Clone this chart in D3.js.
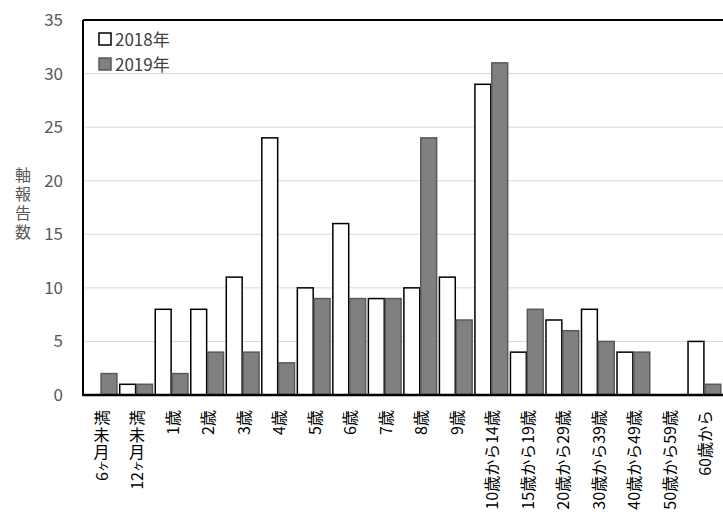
<!DOCTYPE html>
<html><head><meta charset="utf-8">
<script src="https://cdn.jsdelivr.net/npm/d3@7"></script>
<style>body{margin:0;background:#fff}svg{display:block}</style>
</head><body>
<script>
const categories = ["6ヶ月未満","12ヶ月未満","1歳","2歳","3歳","4歳","5歳","6歳","7歳","8歳","9歳","10歳から14歳","15歳から19歳","20歳から29歳","30歳から39歳","40歳から49歳","50歳から59歳","60歳から"];
const series2018 = [0,1,8,8,11,24,10,16,9,10,11,29,4,7,8,4,0,5];
const series2019 = [2,1,2,4,4,3,9,9,9,24,7,31,8,6,5,4,0,1];
const seriesNames = ["2018年","2019年"];
const yTicks = [0,5,10,15,20,25,30,35];
const yTitle = "軸報告数";

const W=723,H=522;
const m={left:83,right:1,top:20,bottom:127};
const svg=d3.select("body").append("svg").attr("width",W).attr("height",H);
const font="'Noto Sans CJK JP','Open Sans',sans-serif";

const x=d3.scaleBand().domain(categories).range([m.left,W-m.right]).paddingInner(0.05).paddingOuter(0.02);
const xs=d3.scaleBand().domain(seriesNames).range([0,x.bandwidth()]).padding(0);
const y=d3.scaleLinear().domain([0,35]).range([H-m.bottom,m.top]);

// gridlines
svg.append("g").selectAll("line").data(yTicks.filter(d=>d>0&&d<35)).join("line")
 .attr("x1",m.left).attr("x2",W).attr("y1",d=>y(d)).attr("y2",d=>y(d))
 .attr("stroke","#d9d9d9").attr("stroke-width",1);

const data=[series2018,series2019];
const styles=[{fill:"#ffffff",stroke:"#000000"},{fill:"#808080",stroke:"#595959"}];
seriesNames.forEach((s,si)=>{
  svg.append("g").selectAll("rect").data(categories).join("rect")
   .attr("x",c=>x(c)+xs(s)+0.5)
   .attr("width",xs.bandwidth()-1)
   .attr("y",(c,i)=>y(data[si][i]))
   .attr("height",(c,i)=>y(0)-y(data[si][i]))
   .attr("fill",styles[si].fill).attr("stroke",styles[si].stroke).attr("stroke-width",1.5)
   .attr("display",(c,i)=>data[si][i]===0?"none":null);
});

// frame
svg.append("line").attr("x1",m.left).attr("x2",W).attr("y1",m.top).attr("y2",m.top).attr("stroke","#000").attr("stroke-width",2);
svg.append("line").attr("x1",m.left).attr("x2",m.left).attr("y1",m.top).attr("y2",y(0)).attr("stroke","#000").attr("stroke-width",2);
svg.append("line").attr("x1",m.left-1).attr("x2",W).attr("y1",y(0)).attr("y2",y(0)).attr("stroke","#000").attr("stroke-width",2.5);

// y axis labels
const ya=svg.append("g").attr("transform",`translate(${m.left},0)`)
 .call(d3.axisLeft(y).tickValues(yTicks).tickSize(0).tickPadding(20));
ya.select(".domain").remove();
ya.selectAll("text").attr("font-family",font).attr("font-size",17).attr("fill","#595959");

// y title, vertical writing
svg.append("text").attr("font-family",font).attr("font-size",16).attr("fill","#595959")
 .attr("writing-mode","vertical-rl").attr("letter-spacing",3)
 .attr("x",23).attr("y",167).text(yTitle);

// x labels: one rotated text per label, 月 and 未 kept upright via glyph rotation
const fs=16;
const isUpright=ch=>/[月未]/.test(ch);
const xl=svg.append("g");
categories.forEach(c=>{
  const cx=x(c)+x.bandwidth()/2;
  const t=xl.append("text").attr("font-family",font).attr("font-size",fs).attr("fill","#000")
    .attr("text-anchor","end").attr("dominant-baseline","central")
    .attr("transform",`translate(${cx},${y(0)+15}) rotate(-90)`);
  let pendDx=0,pendDy=0;
  Array.from(c).forEach(ch=>{
    const ts=t.append("tspan").text(ch);
    let dx=pendDx,dy=pendDy; pendDx=0; pendDy=0;
    if(ch==="ヶ") ts.attr("font-size",12);
    if(isUpright(ch)){
      ts.attr("rotate",90);
      dx+=0.12*fs+0.5; dy+=-0.88*fs;
      pendDx=-0.12*fs+0.5; pendDy=0.88*fs;
    }
    if(dx) ts.attr("dx",dx);
    if(dy) ts.attr("dy",dy);
  });
  if(pendDx||pendDy){ t.append("tspan").attr("dx",pendDx).attr("dy",pendDy).text("\u200b"); }
});

// legend
const lg=svg.append("g");
seriesNames.forEach((s,i)=>{
  lg.append("rect").attr("x",99).attr("y",33+i*25).attr("width",12).attr("height",12)
   .attr("fill",styles[i].fill).attr("stroke",styles[i].stroke).attr("stroke-width",1.5);
  lg.append("text").attr("x",115).attr("y",46+i*25).attr("font-family",font).attr("font-size",17)
   .attr("fill","#404040").text(s);
});
</script>
</body></html>
